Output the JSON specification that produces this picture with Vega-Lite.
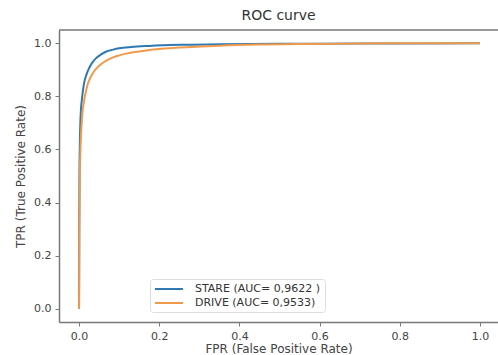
{
  "$schema": "https://vega.github.io/schema/vega-lite/v6.json",
  "width": 439,
  "height": 292,
  "autosize": {"type": "none"},
  "padding": {"left": 59, "top": 30, "right": 0, "bottom": 33},
  "config": {"view": {"stroke": null}, "font": "DejaVu Sans"},
  "title": {"text": "ROC curve", "fontSize": 14, "fontWeight": "normal", "color": "#333", "offset": 6, "anchor": "middle"},
  "layer": [
    {
      "data": {"values": [
        {"model": "STARE (AUC= 0,9622 )", "fpr": 0, "tpr": 0},
        {"model": "STARE (AUC= 0,9622 )", "fpr": 0.0005, "tpr": 0.3},
        {"model": "STARE (AUC= 0,9622 )", "fpr": 0.001, "tpr": 0.5},
        {"model": "STARE (AUC= 0,9622 )", "fpr": 0.002, "tpr": 0.62},
        {"model": "STARE (AUC= 0,9622 )", "fpr": 0.004, "tpr": 0.73},
        {"model": "STARE (AUC= 0,9622 )", "fpr": 0.008, "tpr": 0.8},
        {"model": "STARE (AUC= 0,9622 )", "fpr": 0.012, "tpr": 0.845},
        {"model": "STARE (AUC= 0,9622 )", "fpr": 0.018, "tpr": 0.88},
        {"model": "STARE (AUC= 0,9622 )", "fpr": 0.025, "tpr": 0.906},
        {"model": "STARE (AUC= 0,9622 )", "fpr": 0.033, "tpr": 0.927},
        {"model": "STARE (AUC= 0,9622 )", "fpr": 0.042, "tpr": 0.943},
        {"model": "STARE (AUC= 0,9622 )", "fpr": 0.055, "tpr": 0.958},
        {"model": "STARE (AUC= 0,9622 )", "fpr": 0.067, "tpr": 0.968},
        {"model": "STARE (AUC= 0,9622 )", "fpr": 0.085, "tpr": 0.976},
        {"model": "STARE (AUC= 0,9622 )", "fpr": 0.1, "tpr": 0.981},
        {"model": "STARE (AUC= 0,9622 )", "fpr": 0.13, "tpr": 0.986},
        {"model": "STARE (AUC= 0,9622 )", "fpr": 0.175, "tpr": 0.99},
        {"model": "STARE (AUC= 0,9622 )", "fpr": 0.25, "tpr": 0.994},
        {"model": "STARE (AUC= 0,9622 )", "fpr": 0.35, "tpr": 0.996},
        {"model": "STARE (AUC= 0,9622 )", "fpr": 0.5, "tpr": 0.998},
        {"model": "STARE (AUC= 0,9622 )", "fpr": 0.7, "tpr": 0.999},
        {"model": "STARE (AUC= 0,9622 )", "fpr": 1.0, "tpr": 1.0},
        {"model": "DRIVE (AUC= 0,9533)", "fpr": 0, "tpr": 0},
        {"model": "DRIVE (AUC= 0,9533)", "fpr": 0.001, "tpr": 0.3},
        {"model": "DRIVE (AUC= 0,9533)", "fpr": 0.002, "tpr": 0.5},
        {"model": "DRIVE (AUC= 0,9533)", "fpr": 0.004, "tpr": 0.62},
        {"model": "DRIVE (AUC= 0,9533)", "fpr": 0.008, "tpr": 0.73},
        {"model": "DRIVE (AUC= 0,9533)", "fpr": 0.014, "tpr": 0.795},
        {"model": "DRIVE (AUC= 0,9533)", "fpr": 0.021, "tpr": 0.843},
        {"model": "DRIVE (AUC= 0,9533)", "fpr": 0.028, "tpr": 0.87},
        {"model": "DRIVE (AUC= 0,9533)", "fpr": 0.037, "tpr": 0.893},
        {"model": "DRIVE (AUC= 0,9533)", "fpr": 0.047, "tpr": 0.911},
        {"model": "DRIVE (AUC= 0,9533)", "fpr": 0.058, "tpr": 0.925},
        {"model": "DRIVE (AUC= 0,9533)", "fpr": 0.075, "tpr": 0.94},
        {"model": "DRIVE (AUC= 0,9533)", "fpr": 0.091, "tpr": 0.95},
        {"model": "DRIVE (AUC= 0,9533)", "fpr": 0.12, "tpr": 0.962},
        {"model": "DRIVE (AUC= 0,9533)", "fpr": 0.15, "tpr": 0.969},
        {"model": "DRIVE (AUC= 0,9533)", "fpr": 0.175, "tpr": 0.975},
        {"model": "DRIVE (AUC= 0,9533)", "fpr": 0.25, "tpr": 0.984},
        {"model": "DRIVE (AUC= 0,9533)", "fpr": 0.35, "tpr": 0.991},
        {"model": "DRIVE (AUC= 0,9533)", "fpr": 0.45, "tpr": 0.995},
        {"model": "DRIVE (AUC= 0,9533)", "fpr": 0.55, "tpr": 0.997},
        {"model": "DRIVE (AUC= 0,9533)", "fpr": 0.7, "tpr": 0.999},
        {"model": "DRIVE (AUC= 0,9533)", "fpr": 0.85, "tpr": 1.0},
        {"model": "DRIVE (AUC= 0,9533)", "fpr": 1.0, "tpr": 1.0}
      ]},
      "mark": {"type": "line", "strokeWidth": 2, "interpolate": "monotone"},
      "encoding": {
        "x": {
          "field": "fpr", "type": "quantitative",
          "scale": {"domain": [-0.05, 1.045], "nice": false, "zero": false},
          "axis": {
            "values": [0, 0.2, 0.4, 0.6, 0.8, 1.0], "format": ".1f", "grid": false,
            "domainColor": "#777", "domainWidth": 1.5, "tickColor": "#777", "tickSize": 4,
            "labelFontSize": 11, "labelColor": "#444", "labelPadding": 4,
            "title": "FPR (False Positive Rate)", "titleFontSize": 12, "titleFontWeight": "normal",
            "titleColor": "#444", "titlePadding": 2
          }
        },
        "y": {
          "field": "tpr", "type": "quantitative",
          "scale": {"domain": [-0.05, 1.05], "nice": false, "zero": false},
          "axis": {
            "values": [0, 0.2, 0.4, 0.6, 0.8, 1.0], "format": ".1f", "grid": false,
            "domainColor": "#777", "domainWidth": 1.5, "tickColor": "#777", "tickSize": 4,
            "labelFontSize": 11, "labelColor": "#444", "labelPadding": 4,
            "title": "TPR (True Positive Rate)", "titleFontSize": 12, "titleFontWeight": "normal",
            "titleColor": "#444", "titlePadding": 6
          }
        },
        "color": {
          "field": "model", "type": "nominal",
          "scale": {"domain": ["STARE (AUC= 0,9622 )", "DRIVE (AUC= 0,9533)"], "range": ["#2f78b2", "#f19a4c"]},
          "legend": {
            "orient": "none", "legendX": 91, "legendY": 249, "title": null,
            "symbolType": "M-1,0L4.6,0", "symbolSize": 100, "symbolStrokeWidth": 2,
            "labelFontSize": 11, "labelColor": "#333", "labelOffset": 29,
            "padding": 4, "rowPadding": 3, "fillColor": "white", "strokeColor": "#ddd", "cornerRadius": 3
          }
        }
      }
    },
    {
      "data": {"values": [{}]},
      "mark": {"type": "rule", "color": "#777", "strokeWidth": 1.5},
      "encoding": {"y": {"datum": 1.05}}
    }
  ]
}
